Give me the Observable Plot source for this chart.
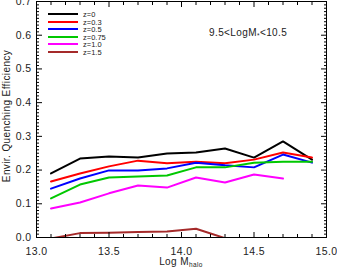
<!DOCTYPE html>
<html><head><meta charset="utf-8">
<script src="https://cdn.jsdelivr.net/npm/d3@7"></script>
<script src="https://cdn.jsdelivr.net/npm/@observablehq/plot@0.6"></script>
<style>
body{margin:0;background:#fff;font-family:"Liberation Sans",Arial,sans-serif;}
#wrap{position:relative;width:337px;height:268px;}
.ov{position:absolute;color:#222;white-space:nowrap;line-height:1;}
.leg{position:absolute;left:48px;font-size:7.5px;color:#222;}
.leg span.ln{position:absolute;left:0;top:-1px;width:30px;height:2px;}
.leg span.tx{position:absolute;left:35px;top:-4px;}
sub{font-size:65%;vertical-align:0;position:relative;top:0.35em;}
</style></head><body><div id="wrap"></div>
<script>
const logMhalo = [13.1, 13.3, 13.5, 13.7, 13.9, 14.1, 14.3, 14.5, 14.7, 14.9];
const zLabels = ["z=0", "z=0.3", "z=0.5", "z=0.75", "z=1.0", "z=1.5"];
const zColors = ["#000000", "#ff0000", "#0000ff", "#00c800", "#ff00ff", "#a52a2a"];
const effZ0   = [0.190, 0.234, 0.240, 0.237, 0.249, 0.252, 0.264, 0.237, 0.285, 0.231];
const effZ03  = [0.166, 0.190, 0.211, 0.228, 0.220, 0.225, 0.220, 0.231, 0.252, 0.237];
const effZ05  = [0.145, 0.175, 0.199, 0.199, 0.205, 0.222, 0.214, 0.208, 0.246, 0.222];
const effZ075 = [0.116, 0.157, 0.178, 0.181, 0.184, 0.208, 0.208, 0.222, 0.225, 0.225];
const effZ10  = [0.086, 0.104, 0.131, 0.154, 0.148, 0.178, 0.163, 0.187, 0.175];
const effZ15  = [-0.003, 0.013, 0.014, 0.016, 0.018, 0.026, -0.002];
const xMajor = [13.0, 13.5, 14.0, 14.5, 15.0];
const xMinor = [13.1,13.2,13.3,13.4,13.6,13.7,13.8,13.9,14.1,14.2,14.3,14.4,14.6,14.7,14.8,14.9];
const yMajor = [0.0, 0.1, 0.2, 0.3, 0.4, 0.5, 0.6, 0.7];
const yMinor = d3.range(0, 71).map(i => i / 100).filter((v, i) => i % 10 !== 0);

const series = [effZ0, effZ03, effZ05, effZ075, effZ10, effZ15];
const rows = [];
series.forEach((vals, s) => vals.forEach((v, i) => rows.push({x: logMhalo[i], y: v, z: zLabels[s]})));

const axisStyle = {fontSize: 10.5, fill: "#222"};
const chart = Plot.plot({
  width: 337, height: 268,
  marginLeft: 36, marginRight: 11, marginTop: 1, marginBottom: 31,
  style: {fontFamily: "'Liberation Sans', Arial, sans-serif", background: "#fff", letterSpacing: "0.4px", overflow: "visible"},
  x: {domain: [13, 15]},
  y: {domain: [0, 0.7]},
  color: {domain: zLabels, range: zColors},
  marks: [
    Plot.line(rows, {x: "x", y: "y", z: "z", stroke: "z", strokeWidth: 2, clip: true}),
    Plot.frame({stroke: "#000", strokeWidth: 1}),
    Plot.axisX({anchor: "bottom", ticks: xMajor, tickSize: -5, tickFormat: d => d.toFixed(1), tickPadding: 15, ...axisStyle, label: null}),
    Plot.axisX({anchor: "bottom", ticks: xMinor, tickSize: -3, tickFormat: () => "", label: null}),
    Plot.axisX({anchor: "top", ticks: xMajor, tickSize: -5, tickFormat: () => "", label: null}),
    Plot.axisX({anchor: "top", ticks: xMinor, tickSize: -3, tickFormat: () => "", label: null}),
    Plot.axisY({anchor: "left", ticks: yMajor, tickSize: -6, tickFormat: d => d.toFixed(1), tickPadding: 11, ...axisStyle, label: null}),
    Plot.axisY({anchor: "left", ticks: yMinor, tickSize: -3, tickFormat: () => "", label: null}),
    Plot.axisY({anchor: "right", ticks: yMajor, tickSize: -6, tickFormat: () => "", label: null}),
    Plot.axisY({anchor: "right", ticks: yMinor, tickSize: -3, tickFormat: () => "", label: null})
  ]
});
const wrap = document.getElementById("wrap");
wrap.appendChild(chart);

// y axis title
const yt = document.createElement("div");
yt.className = "ov";
yt.style.cssText = "left:7px;top:116px;font-size:10px;letter-spacing:0.4px;transform:translate(-50%,-50%) rotate(-90deg);";
yt.textContent = "Envir. Quenching Efficiency";
wrap.appendChild(yt);

// x axis title
const xt = document.createElement("div");
xt.className = "ov";
xt.style.cssText = "left:181px;top:262px;font-size:10px;letter-spacing:0.4px;transform:translate(-50%,-50%);";
xt.innerHTML = "Log M<sub>halo</sub>";
wrap.appendChild(xt);

// annotation
const an = document.createElement("div");
an.className = "ov";
an.style.cssText = "left:209px;top:33px;font-size:10px;letter-spacing:0.4px;transform:translate(0,-50%);";
an.innerHTML = "9.5&lt;LogM<sub>*</sub>&lt;10.5";
wrap.appendChild(an);

// legend
zLabels.forEach((lab, i) => {
  const r = document.createElement("div");
  r.className = "leg";
  r.style.top = (14 + i * 7.6) + "px";
  r.innerHTML = `<span class="ln" style="background:${zColors[i]}"></span><span class="tx">${lab}</span>`;
  wrap.appendChild(r);
});
</script></body></html>
